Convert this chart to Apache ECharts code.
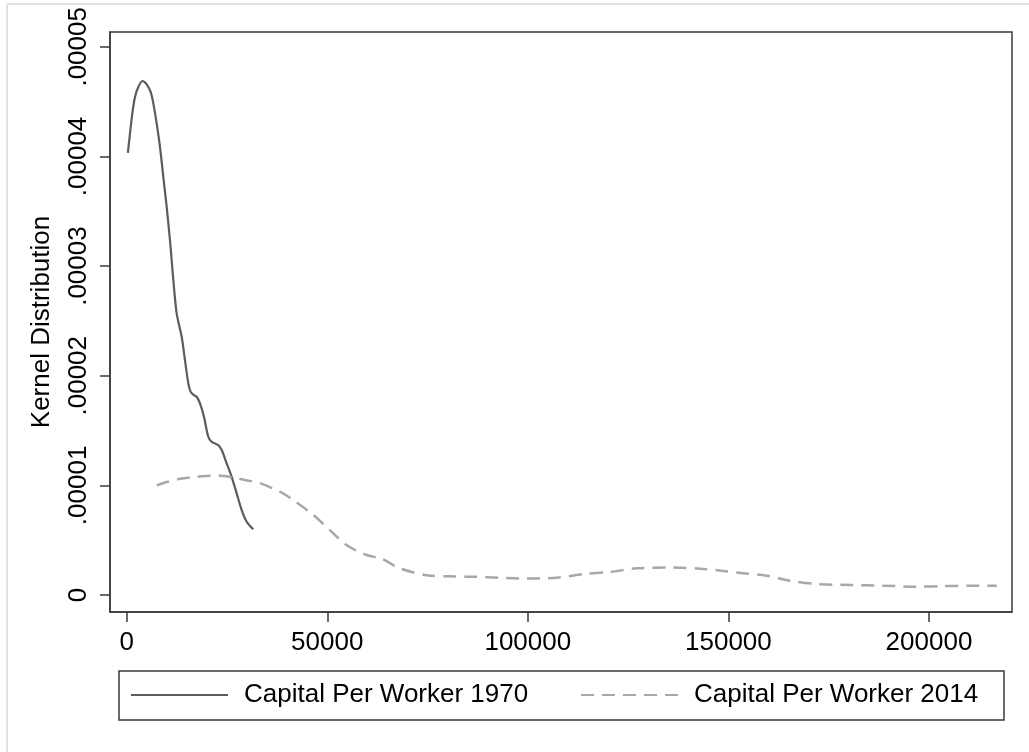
<!DOCTYPE html>
<html>
<head>
<meta charset="utf-8">
<script src="https://cdn.jsdelivr.net/npm/echarts@6/dist/echarts.min.js"></script>
<style>
  html, body { margin: 0; padding: 0; background: #fff; }
  #chart { width: 1029px; height: 752px; }
</style>
</head>
<body>
<div id="chart"></div>
<script>
// ---- data (x: capital per worker, y: kernel density) ----
const seriesNames = ['Capital Per Worker 1970', 'Capital Per Worker 2014'];

const k1970X = [300, 820, 1400, 2070, 2900, 3900, 4990, 5980, 6650, 7480, 8300, 9130, 9970, 10790, 11210, 11800, 12500, 13710, 14530, 15360, 15950, 16700, 17450, 18270, 19270, 20340, 21190, 22830, 23680, 24930, 26170, 27420, 28670, 29910, 31560];
const k1970Y = [0.00004032, 0.00004209, 0.00004391, 0.00004542, 0.00004633, 0.00004688, 0.00004658, 0.00004588, 0.00004482, 0.00004300, 0.00004087, 0.00003813, 0.00003540, 0.00003236, 0.00003054, 0.00002800, 0.00002560, 0.00002355, 0.00002142, 0.00001930, 0.00001853, 0.00001825, 0.00001808, 0.00001747, 0.00001625, 0.00001443, 0.00001397, 0.00001367, 0.00001322, 0.00001200, 0.00001078, 0.00000927, 0.00000775, 0.00000668, 0.00000599];

const k2014X = [7500, 10000, 13300, 16500, 19900, 23000, 26600, 30000, 33200, 38300, 41500, 46500, 50700, 54800, 59800, 63600, 68100, 74800, 80000, 84800, 90000, 98000, 107200, 113800, 120500, 127100, 136300, 142900, 148700, 153700, 159500, 165300, 172000, 180300, 188600, 196900, 203600, 210000, 216900];
const k2014Y = [0.0000100, 0.0000103, 0.0000106, 0.00001075, 0.00001085, 0.0000109, 0.0000107, 0.00001045, 0.0000102, 0.0000094, 0.00000866, 0.0000073, 0.0000059, 0.00000456, 0.00000365, 0.0000033, 0.00000243, 0.0000018, 0.0000017, 0.00000167, 0.00000163, 0.00000150, 0.00000158, 0.0000019, 0.0000021, 0.00000243, 0.0000025, 0.0000024, 0.0000022, 0.00000198, 0.00000176, 0.0000013, 0.0000010, 0.00000091, 0.00000085, 0.00000076, 0.00000082, 0.00000084, 0.00000085];

const xTickValues = [0, 50000, 100000, 150000, 200000];
const xTickLabels = ['0', '50000', '100000', '150000', '200000'];
const yTickValues = [0, 0.00001, 0.00002, 0.00003, 0.00004, 0.00005];
const yTickLabels = ['0', '.00001', '.00002', '.00003', '.00004', '.00005'];
const yAxisTitle = 'Kernel Distribution';

// ---- build ----
const zip = (xs, ys) => xs.map((x, i) => [x, ys[i]]);
const FONT = "'Liberation Sans', Arial, sans-serif";
const AXIS_COLOR = '#3a3a3a';

function labelFor(values, labels, v) {
  for (let i = 0; i < values.length; i++) {
    if (Math.abs(values[i] - v) <= Math.abs(values[i]) * 1e-9 + 1e-15) return labels[i];
  }
  return '';
}

const chart = echarts.init(document.getElementById('chart'), null, { renderer: 'canvas' });

const legendBase = {
  top: 682, padding: 0,
  itemWidth: 97, itemHeight: 26,
  itemStyle: { opacity: 0, borderWidth: 0 },
  textStyle: { color: '#000', fontSize: 26, fontFamily: FONT, padding: [0, 0, 0, 11] }
};

const option = {
  backgroundColor: '#ffffff',
  animation: false,
  grid: {
    left: 110, top: 32, right: 17, bottom: 140,
    show: true, borderColor: AXIS_COLOR, borderWidth: 1.5, backgroundColor: '#ffffff'
  },
  xAxis: {
    type: 'value',
    min: -4160, max: 220700,
    axisLine: { show: true, onZero: false, lineStyle: { color: AXIS_COLOR, width: 1.5 } },
    axisTick: { show: true, inside: false, length: 10, customValues: xTickValues, lineStyle: { color: AXIS_COLOR, width: 1.5 } },
    axisLabel: {
      customValues: xTickValues, margin: 18, color: '#000', fontSize: 26, fontFamily: FONT,
      formatter: v => labelFor(xTickValues, xTickLabels, v)
    },
    splitLine: { show: false }
  },
  yAxis: {
    type: 'value',
    min: -0.00000155, max: 0.00005135,
    name: yAxisTitle, nameLocation: 'middle', nameGap: 55, nameRotate: 90,
    nameTextStyle: { color: '#000', fontSize: 26, fontFamily: FONT },
    axisLine: { show: true, onZero: false, lineStyle: { color: AXIS_COLOR, width: 1.5 } },
    axisTick: { show: true, inside: false, length: 10, customValues: yTickValues, lineStyle: { color: AXIS_COLOR, width: 1.5 } },
    axisLabel: {
      customValues: yTickValues, rotate: 90, margin: 18, color: '#000', fontSize: 26, fontFamily: FONT,
      formatter: v => labelFor(yTickValues, yTickLabels, v)
    },
    splitLine: { show: false }
  },
  legend: [
    Object.assign({ data: [seriesNames[0]], left: 130 }, legendBase),
    Object.assign({ data: [seriesNames[1]], left: 580 }, legendBase)
  ],
  graphic: [
    { type: 'line', shape: { x1: 7, y1: 4, x2: 1029, y2: 4 }, style: { stroke: '#e2e2e2', lineWidth: 2 }, silent: true },
    { type: 'line', shape: { x1: 7, y1: 4, x2: 7, y2: 752 }, style: { stroke: '#e2e2e2', lineWidth: 2 }, silent: true },
    { type: 'rect', shape: { x: 119, y: 671, width: 885, height: 49 }, style: { fill: 'none', stroke: AXIS_COLOR, lineWidth: 1.5 }, silent: true }
  ],
  series: [
    {
      name: seriesNames[0], type: 'line', data: zip(k1970X, k1970Y),
      symbol: 'none', showSymbol: false, smooth: 0.3,
      lineStyle: { color: '#5c5c5c', width: 2.2, type: 'solid' },
      itemStyle: { color: '#5c5c5c' }
    },
    {
      name: seriesNames[1], type: 'line', data: zip(k2014X, k2014Y),
      symbol: 'none', showSymbol: false, smooth: 0.3,
      lineStyle: { color: '#a8a8a8', width: 2.5, type: [13, 8] },
      itemStyle: { color: '#a8a8a8' }
    }
  ]
};

chart.setOption(option);
</script>
</body>
</html>
